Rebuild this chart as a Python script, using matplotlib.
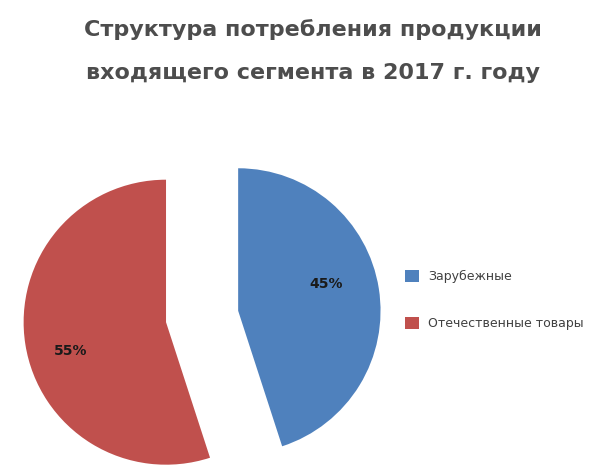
import numpy as np
import matplotlib.pyplot as plt

# --- données ---
categories = ["Зарубежные", "Отечественные товары"]
values = [45, 55]
colors = ["#4F81BD", "#C0504D"]
title_lines = ["Структура потребления продукции",
               "входящего сегмента в 2017 г. году"]

fig = plt.figure(figsize=(5.97, 4.72), dpi=100)
fig.patch.set_facecolor("white")

# axes carré en pixels, le camembert déborde un peu en bas
ax = fig.add_axes([-0.004, -0.104, 0.685, 0.867])
wedges, texts, autotexts = ax.pie(
    values, colors=colors, startangle=90, counterclock=False, radius=0.975,
    explode=[0.25, 0.25], autopct="%d%%",
    textprops=dict(fontsize=10, fontweight="bold", color="#1a1a1a"),
    wedgeprops=dict(linewidth=0))
ax.set_xlim(-1.4, 1.4)
ax.set_ylim(-1.4, 1.4)
ax.set_aspect("auto")

# placement "best fit" des pourcentages, un peu tourné comme dans Excel
for w, t, d in zip(wedges, autotexts, [0.63, 0.68]):
    ang = np.deg2rad((w.theta1 + w.theta2) / 2 + 8)
    cx, cy = w.center
    t.set_position((cx + d * np.cos(ang), cy + d * np.sin(ang)))

# ---- titre sur deux lignes ----
fig.text(0.524, 1 - 30 / 472, title_lines[0], ha="center", va="center",
         fontsize=16, fontweight="bold", color="#4d4d4d")
fig.text(0.524, 1 - 73 / 472, title_lines[1], ha="center", va="center",
         fontsize=16, fontweight="bold", color="#4d4d4d")

fig.legend(wedges, categories, loc="center left", bbox_to_anchor=(0.66, 0.365),
           frameon=False, fontsize=9, handlelength=1.1, handleheight=1.1,
           labelspacing=2.7, handletextpad=0.7, labelcolor="#404040")

fig.savefig("out.png", dpi=100)
